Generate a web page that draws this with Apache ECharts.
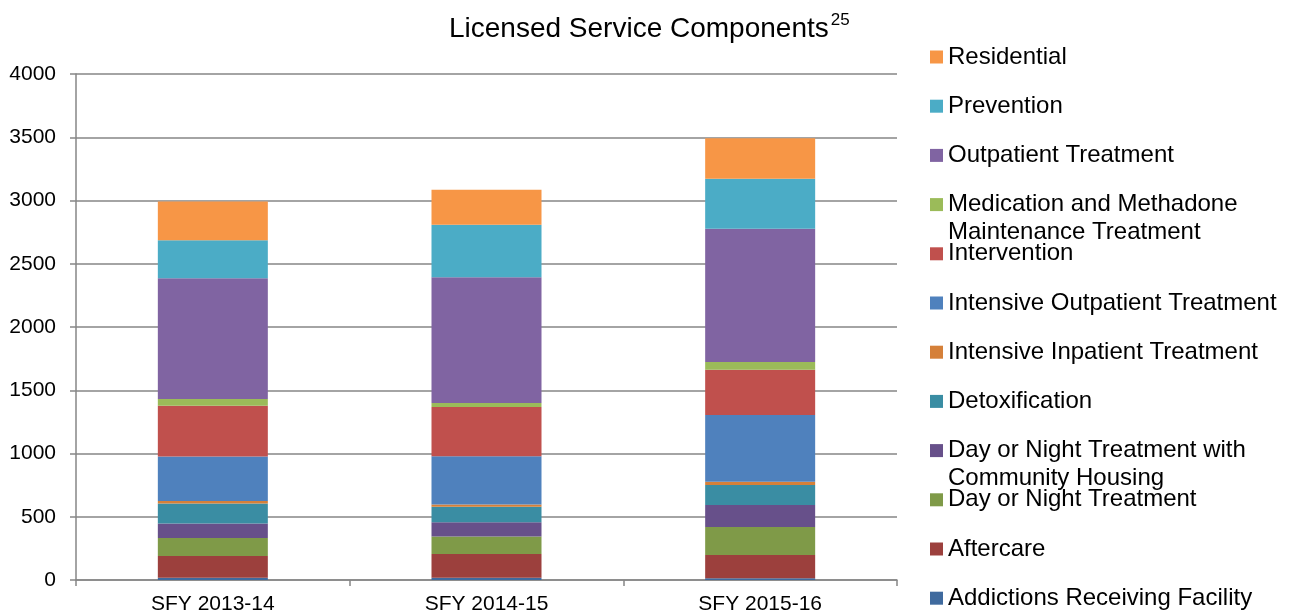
<!DOCTYPE html>
<html>
<head>
<meta charset="utf-8">
<script src="https://cdn.jsdelivr.net/npm/echarts@6/dist/echarts.min.js"></script>
<style>
html,body{margin:0;padding:0;background:#fff;}
#chart{width:1291px;height:615px;}
</style>
</head>
<body>
<div id="chart"></div>
<script>
// ---- data ----
const categories = ['SFY 2013-14', 'SFY 2014-15', 'SFY 2015-16'];
const yTicks = [0, 500, 1000, 1500, 2000, 2500, 3000, 3500, 4000];

const addictionsReceiving = [18, 18, 13];
const aftercare = [171, 187, 184];
const dayNight = [144, 139, 221];
const dayNightHousing = [113, 113, 175];
const detoxification = [158, 123, 158];
const intensiveInpatient = [21, 16, 26];
const intensiveOutpatient = [351, 383, 528];
const intervention = [402, 388, 357];
const medication = [52, 32, 61];
const outpatient = [956, 995, 1053];
const prevention = [299, 414, 396];
const residential = [307, 276, 321];

// stack order bottom -> top
const seriesNames = [
  'Addictions Receiving Facility',
  'Aftercare',
  'Day or Night Treatment',
  'Day or Night Treatment with Community Housing',
  'Detoxification',
  'Intensive Inpatient Treatment',
  'Intensive Outpatient Treatment',
  'Intervention',
  'Medication and Methadone Maintenance Treatment',
  'Outpatient Treatment',
  'Prevention',
  'Residential'
];
const seriesValues = [
  addictionsReceiving, aftercare, dayNight, dayNightHousing, detoxification,
  intensiveInpatient, intensiveOutpatient, intervention, medication,
  outpatient, prevention, residential
];
const legendLines = {
  'Day or Night Treatment with Community Housing': ['Day or Night Treatment with', 'Community Housing'],
  'Medication and Methadone Maintenance Treatment': ['Medication and Methadone', 'Maintenance Treatment']
};
const colors = [
  '#3F6A9E', '#9C403D', '#7F9A48', '#67508A', '#3A8DA3', '#D58039',
  '#4F81BD', '#C0504D', '#9BBB59', '#8064A2', '#4BACC6', '#F79646'
];

// ---- chart ----
const chart = echarts.init(document.getElementById('chart'));
const FONT = 'Liberation Sans, Arial, sans-serif';

const series = seriesNames.map((name, i) => ({
  name: name,
  type: 'bar',
  stack: 'total',
  barWidth: 110,
  data: seriesValues[i],
  itemStyle: { color: colors[i] },
  emphasis: { disabled: true }
}));

// legend: one component per entry, top entry = last series
const LINE_H = 28;
const legends = [];
const legendOrder = seriesNames.slice().reverse();
legendOrder.forEach((name, i) => {
  const cy = 57 + 49.2 * i;
  const wrapped = !!legendLines[name];
  legends.push({
    data: [name],
    orient: 'vertical',
    left: 930,
    top: wrapped ? cy - 1.5 * LINE_H : cy - LINE_H / 2,
    padding: 0,
    itemWidth: 13,
    itemHeight: 13,
    icon: 'rect',
    selectedMode: false,
    formatter: (n) => legendLines[n] ? (' \n' + legendLines[n].join('\n')) : n,
    textStyle: {
      fontFamily: FONT,
      fontSize: 24,
      color: '#000',
      lineHeight: LINE_H
    }
  });
});

chart.setOption({
  backgroundColor: '#fff',
  animation: false,
  color: colors,
  title: {
    text: '{m|Licensed Service Components}{s|25}',
    left: 444,
    top: 7,
    textStyle: {
      rich: {
        m: { fontFamily: FONT, fontSize: 28, fontWeight: 'normal', color: '#000', lineHeight: 34 },
        s: { fontFamily: FONT, fontSize: 17, fontWeight: 'normal', color: '#000', verticalAlign: 'top', lineHeight: 34, padding: [0, 0, 14, 2] }
      }
    }
  },
  legend: legends,
  grid: { left: 76, right: 394, top: 74, bottom: 33, containLabel: false },
  xAxis: {
    type: 'category',
    data: categories,
    axisLine: { lineStyle: { color: '#868686', width: 1.5 } },
    axisTick: { show: true, length: 6, alignWithLabel: false, lineStyle: { color: '#868686', width: 1.5 } },
    axisLabel: { fontFamily: FONT, fontSize: 21, color: '#000', margin: 14 }
  },
  yAxis: {
    type: 'value',
    min: yTicks[0],
    max: yTicks[yTicks.length - 1],
    interval: yTicks[1] - yTicks[0],
    axisLine: { show: true, lineStyle: { color: '#868686', width: 1.5 } },
    axisTick: { show: true, length: 6, lineStyle: { color: '#868686', width: 1.5 } },
    splitLine: { lineStyle: { color: '#868686', width: 1.5 } },
    axisLabel: { fontFamily: FONT, fontSize: 21, color: '#000', margin: 20, formatter: (v) => String(v) }
  },
  series: series
});
</script>
</body>
</html>
